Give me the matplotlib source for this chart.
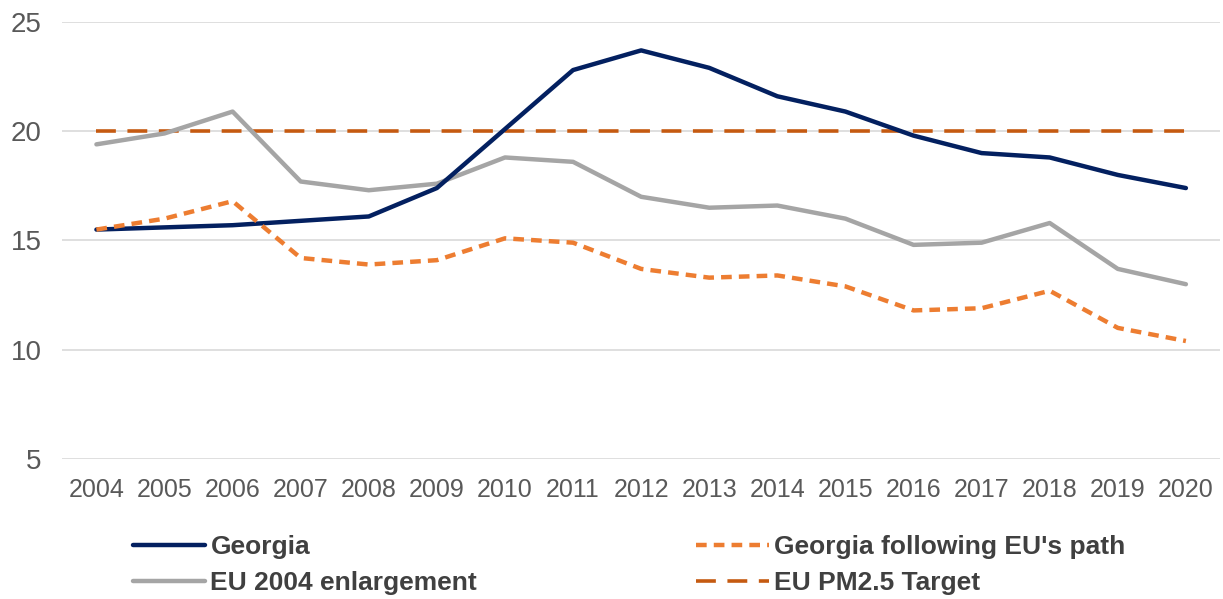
import matplotlib
matplotlib.use("Agg")
import matplotlib.pyplot as plt

# PM2.5 concentration series, 2004-2020
years = [str(y) for y in range(2004, 2021)]
georgia = [15.5, 15.6, 15.7, 15.9, 16.1, 17.4, 20.1, 22.8, 23.7, 22.9, 21.6, 20.9, 19.8, 19.0, 18.8, 18.0, 17.4]
eu_2004 = [19.4, 19.9, 20.9, 17.7, 17.3, 17.6, 18.8, 18.6, 17.0, 16.5, 16.6, 16.0, 14.8, 14.9, 15.8, 13.7, 13.0]
georgia_eu_path = [15.5, 16.0, 16.8, 14.2, 13.9, 14.1, 15.1, 14.9, 13.7, 13.3, 13.4, 12.9, 11.8, 11.9, 12.7, 11.0, 10.4]
target = [20] * len(years)
y_ticks = [5, 10, 15, 20, 25]

plt.rcParams['font.family'] = ['Liberation Sans', 'DejaVu Sans']

fig = plt.figure(figsize=(12.23, 5.99), dpi=100)
ax = fig.add_axes([0.051, 0.2337, 0.9465, 0.7296])

x = range(len(years))
l_target, = ax.plot(x, target, color='#C55A11', lw=2.6, dashes=(5.5, 3.2), zorder=3,
                    label='EU PM2.5 Target')
l_geo, = ax.plot(x, georgia, color='#032060', lw=3.2, zorder=4, solid_capstyle='round',
                 label='Georgia')
l_eu, = ax.plot(x, eu_2004, color='#A5A5A5', lw=3.2, zorder=3, solid_capstyle='round',
                label='EU 2004 enlargement')
l_path, = ax.plot(x, georgia_eu_path, color='#ED7D31', lw=3.2, dashes=(2.4, 1.6), zorder=5,
                  label="Georgia following EU's path")

ax.set_xlim(-0.5, len(years) - 0.5)
ax.set_ylim(5, 25)
ax.set_yticks(y_ticks)
ax.set_xticks(list(x))
ax.set_xticklabels(years)
ax.grid(axis='y', color='#D9D9D9', lw=1.2, zorder=0)
ax.set_axisbelow(True)
for s in ax.spines.values():
    s.set_visible(False)
ax.tick_params(axis='both', length=0, colors='#595959')
ax.tick_params(axis='y', labelsize=20, pad=15)
ax.tick_params(axis='x', labelsize=18, pad=14)

fig.legend([l_geo, l_eu, l_path, l_target],
           ['Georgia', 'EU 2004 enlargement', "Georgia following EU's path", 'EU PM2.5 Target'],
           ncol=2, loc='lower left', bbox_to_anchor=(0.089, -0.033), frameon=False,
           prop={'weight': 'bold', 'size': 19}, labelcolor='#404040',
           handlelength=2.75, handletextpad=0.2, columnspacing=8.3, labelspacing=0.45)

fig.savefig('out.png', dpi=100)
